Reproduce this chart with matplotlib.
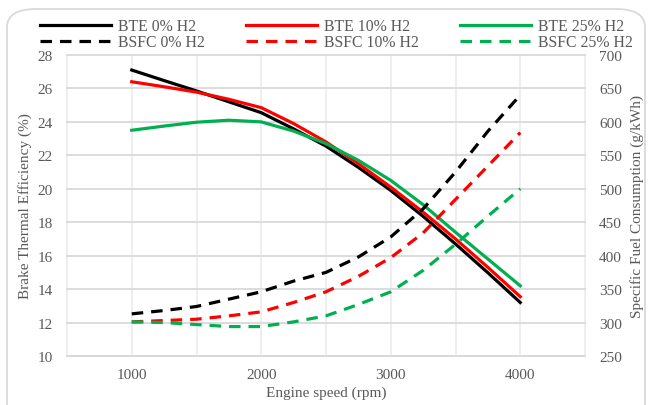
import matplotlib.pyplot as plt
from matplotlib.patches import FancyBboxPatch

plt.rcParams['font.family'] = ['Liberation Serif', 'DejaVu Serif']
plt.rcParams['font.size'] = 11
plt.rcParams['text.color'] = '#595959'

# engine speed (rpm)
rpm = [1000, 1250, 1500, 1750, 2000, 2250, 2500, 2750, 3000, 3250, 3500, 3750, 4000]

# brake thermal efficiency (%)
bte_0 = [27.1, 26.47, 25.85, 25.2, 24.55, 23.58, 22.55, 21.28, 19.9, 18.35, 16.7, 14.98, 13.2]
bte_10 = [26.4, 26.1, 25.78, 25.35, 24.85, 23.9, 22.8, 21.5, 20.1, 18.6, 17.0, 15.3, 13.55]
bte_25 = [23.5, 23.75, 23.98, 24.1, 24.0, 23.45, 22.7, 21.7, 20.5, 19.05, 17.4, 15.8, 14.2]

# brake specific fuel consumption (g/kWh)
bsfc_0 = [313, 318, 324, 335, 346, 362, 375, 398, 428, 470, 525, 586, 640]
bsfc_10 = [301, 303, 305, 310, 316, 330, 346, 369, 397, 434, 484, 534, 584]
bsfc_25 = [301, 300, 297, 294, 294, 301, 310, 327, 346, 378, 417, 459, 500]

c_black = 'black'
c_red = '#FF0000'
c_green = '#00B050'
grey = '#595959'

W, H = 652, 406
fig = plt.figure(figsize=(W / 100, H / 100), dpi=100)

# chart area border (rounded, cut at the bottom)
border = FancyBboxPatch((7 / W, -30 / H), 638 / W, 426 / H,
                        boxstyle='round,pad=0,rounding_size=0.045',
                        transform=fig.transFigure, facecolor='none',
                        edgecolor='#D9D9D9', lw=1.3, zorder=-1)
fig.patches.append(border)

ax = fig.add_axes([67 / W, 49 / H, 518 / W, 301 / H])
ax.patch.set_alpha(0)
ax2 = ax.twinx()

lw = 2.3
dash = (3.6, 2.5)

l1, = ax.plot(rpm, bte_0, color=c_black, lw=lw, label='BTE 0% H2')
l2, = ax.plot(rpm, bte_10, color=c_red, lw=lw, label='BTE 10% H2')
l3, = ax.plot(rpm, bte_25, color=c_green, lw=lw, label='BTE 25% H2')
d1, = ax2.plot(rpm, bsfc_0, color=c_black, lw=lw, dashes=dash, label='BSFC 0% H2')
d2, = ax2.plot(rpm, bsfc_10, color=c_red, lw=lw, dashes=dash, label='BSFC 10% H2')
d3, = ax2.plot(rpm, bsfc_25, color=c_green, lw=lw, dashes=dash, label='BSFC 25% H2')

ax.set_xlim(500, 4500)
ax.set_ylim(10, 28)
ax2.set_ylim(250, 700)

ax.set_xticks(range(500, 4501, 500))
ax.set_xticklabels(['' if v % 1000 else str(v) for v in range(500, 4501, 500)])
ax.set_yticks(range(10, 29, 2))
ax2.set_yticks(range(250, 701, 50))

ax.grid(axis='y', color='#D9D9D9', lw=1.3)
ax.grid(axis='x', color='#EDEDED', lw=1.3)
ax.set_axisbelow(True)
for g in ax.get_xgridlines() + ax.get_ygridlines():
    g.set_clip_on(False)

for a in (ax, ax2):
    for s in a.spines.values():
        s.set_visible(False)
    a.tick_params(length=0, colors=grey, labelsize=11)
ax.spines['bottom'].set_visible(True)
ax.spines['bottom'].set_color('#D9D9D9')
ax.spines['bottom'].set_linewidth(1.4)
ax.tick_params(axis='y', pad=10)
ax.tick_params(axis='x', pad=9)
ax2.tick_params(axis='y', pad=10)

ax.set_xlabel('Engine speed (rpm)', color=grey, fontsize=11, labelpad=3)
ax.set_ylabel('Brake Thermal Efficiency (%)', color=grey, fontsize=11, labelpad=4)
ax2.set_ylabel('Specific Fuel Consumption (g/kWh)', color=grey, fontsize=11,
               rotation=90, labelpad=6)

fig.legend(handles=[l1, d1, l2, d2, l3, d3], ncol=3, loc='upper left',
           bbox_to_anchor=(40 / W, 1 - 19 / H), frameon=False, borderpad=0,
           borderaxespad=0, handlelength=4.5, handletextpad=0.45,
           columnspacing=2.65, labelspacing=0.02, fontsize=11.3)

fig.savefig('out.png', dpi=100)
